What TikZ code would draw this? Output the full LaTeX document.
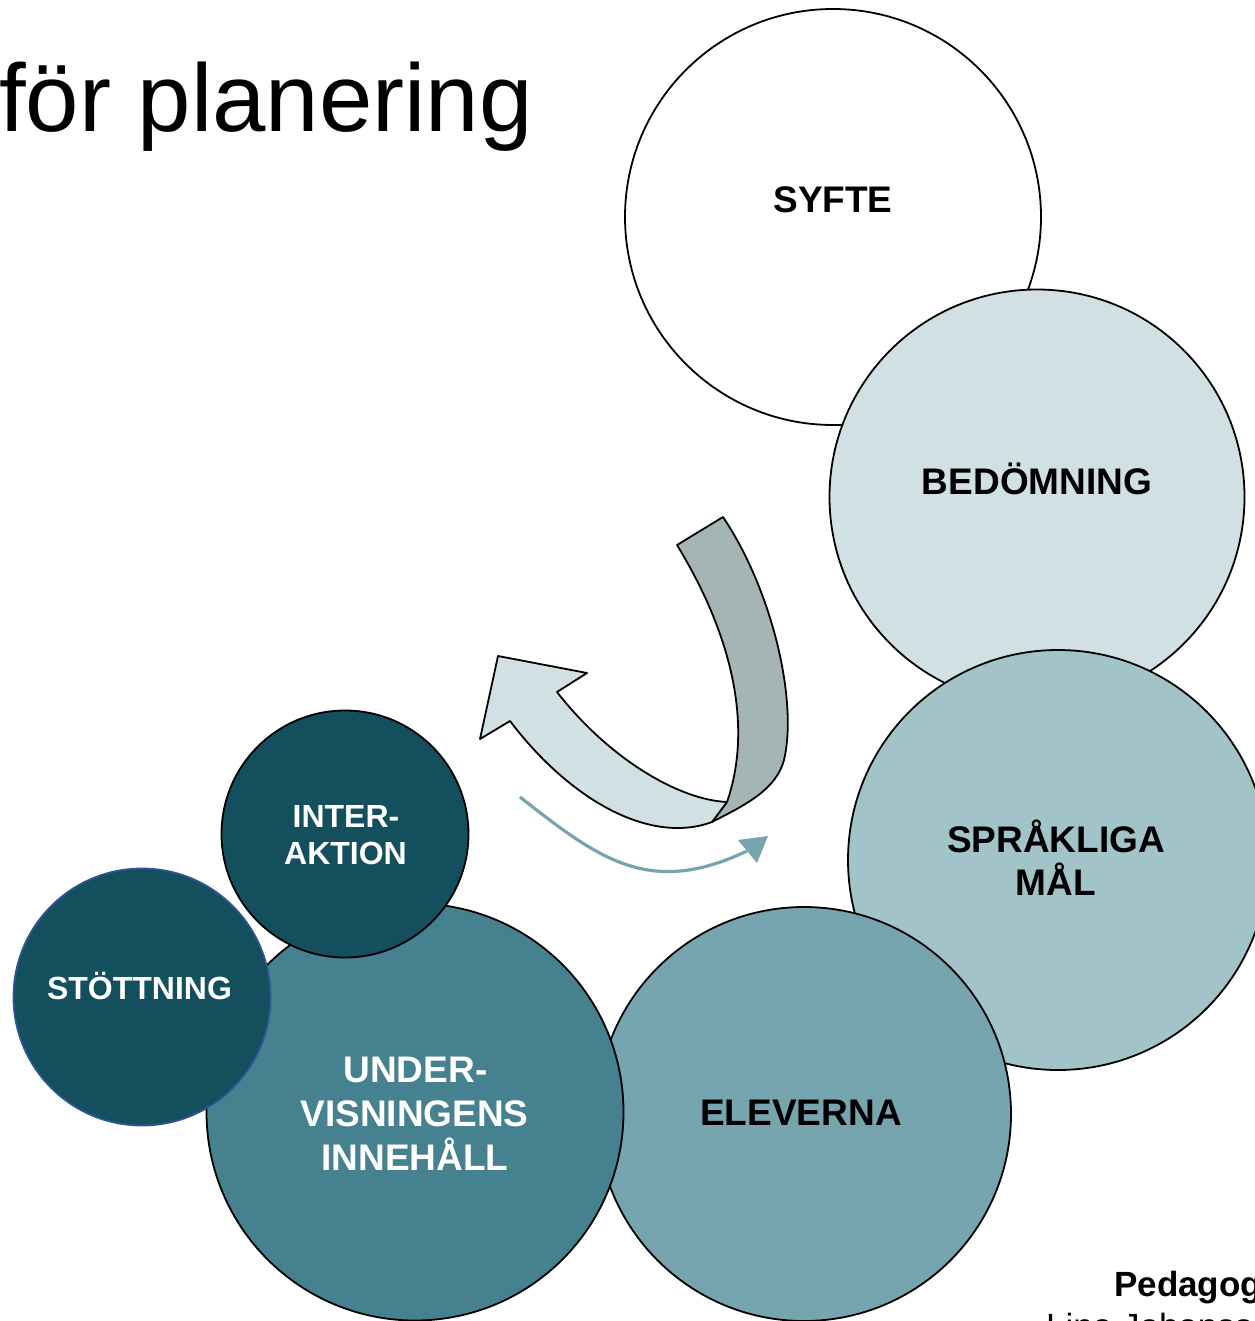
\documentclass[tikz,border=0pt]{standalone}
\usepackage{fontspec}
\setmainfont{Liberation Sans}
\definecolor{cBed}{HTML}{D0E0E3}
\definecolor{cSpr}{HTML}{A2C4C9}
\definecolor{cElev}{HTML}{76A5AF}
\definecolor{cUnd}{HTML}{45818E}
\definecolor{cDark}{HTML}{134F5C}
\definecolor{cBlueLine}{HTML}{2F5597}
\definecolor{cGray}{HTML}{A5B4B5}
\definecolor{cArrow}{HTML}{76A5AF}
\begin{document}
\begin{tikzpicture}[x=1pt,y=-1pt,
  circ/.style={circle, draw=black, line width=1.8pt, inner sep=0pt},
  big/.style={anchor=base, inner sep=0pt, font=\fontsize{37}{44}\selectfont\bfseries},
  small/.style={anchor=base, inner sep=0pt, font=\fontsize{32}{37}\selectfont\bfseries, text=white},
  ribbon/.style={draw=black, line width=1.8pt, line join=round}
]
\useasboundingbox (0,0) rectangle (1254,1321);

% circles
\node[circ, fill=white, minimum size=416pt] (syfte) at (833,217) {};
\node[circ, fill=cBed, minimum size=415pt] (bed) at (1037,497) {};
\node[circ, fill=cSpr, minimum size=420pt] (spr) at (1058,860) {};
\node[circ, fill=cElev, minimum size=414pt] (elev) at (804,1114) {};
\node[circ, fill=cUnd, minimum size=417pt] (und) at (415,1112) {};
\node[circ, fill=cDark, minimum size=247pt] (inter) at (345,834) {};
\node[circ, fill=cDark, draw=cBlueLine, minimum size=257pt] (stot) at (142,997) {};

% labels
\node[big] (tsyfte) at (833,213) {SYFTE};
\node[big] (tbed) at (1037,494) {BEDÖMNING};
\node[big] (tspr1) at (1056,852) {SPRÅKLIGA};
\node[big] (tspr2) at (1056,895) {MÅL};
\node[big] (telev) at (801,1125) {ELEVERNA};
\node[big, text=white] (tund1) at (415.5,1082) {UNDER-};
\node[big, text=white] (tund2) at (414.5,1126) {VISNINGENS};
\node[big, text=white] (tund3) at (415,1170) {INNEHÅLL};
\node[small] (tint1) at (346,827.5) {INTER-};
\node[small] (tint2) at (345.5,864.5) {AKTION};
\node[small] (tstot) at (139.5,999.5) {STÖTTNING};

% curved block arrow: gray back side
\filldraw[ribbon, fill=cGray] (677,545) -- (723,517)
  .. controls (772,590) and (798,700) .. (784,760)
  .. controls (776,790) and (745,805) .. (712,822)
  -- (727,802)
  .. controls (752,730) and (735,640) .. (677,545) -- cycle;
% light front side with head
\filldraw[ribbon, fill=cBed] (727,802)
  .. controls (680,800) and (610,760) .. (557,692)
  -- (587,673) -- (498,656) -- (480,739) -- (510,721)
  .. controls (570,800) and (650,845) .. (712,822)
  -- cycle;

% thin arrow
\coordinate (a0) at (520,797);
\coordinate (a1) at (747,851);
\draw[cArrow, line width=3.2pt] (a0) .. controls (600,860) and (650,897) .. (a1);
\fill[cArrow] (768,836) -- (738,840) -- (757,863) -- cycle;

% title and footer
\node[anchor=base west, inner sep=0pt, font=\fontsize{96}{110}\selectfont] (title) at (-1,132) {för planering};
\node[anchor=base west, inner sep=0pt, font=\fontsize{35}{40}\selectfont\bfseries] (ped) at (1114,1296) {Pedagogisk};
\node[anchor=base west, inner sep=0pt, font=\fontsize{35}{40}\selectfont] (lina) at (1046,1338) {Lina Johansson};
\end{tikzpicture}
\end{document}
